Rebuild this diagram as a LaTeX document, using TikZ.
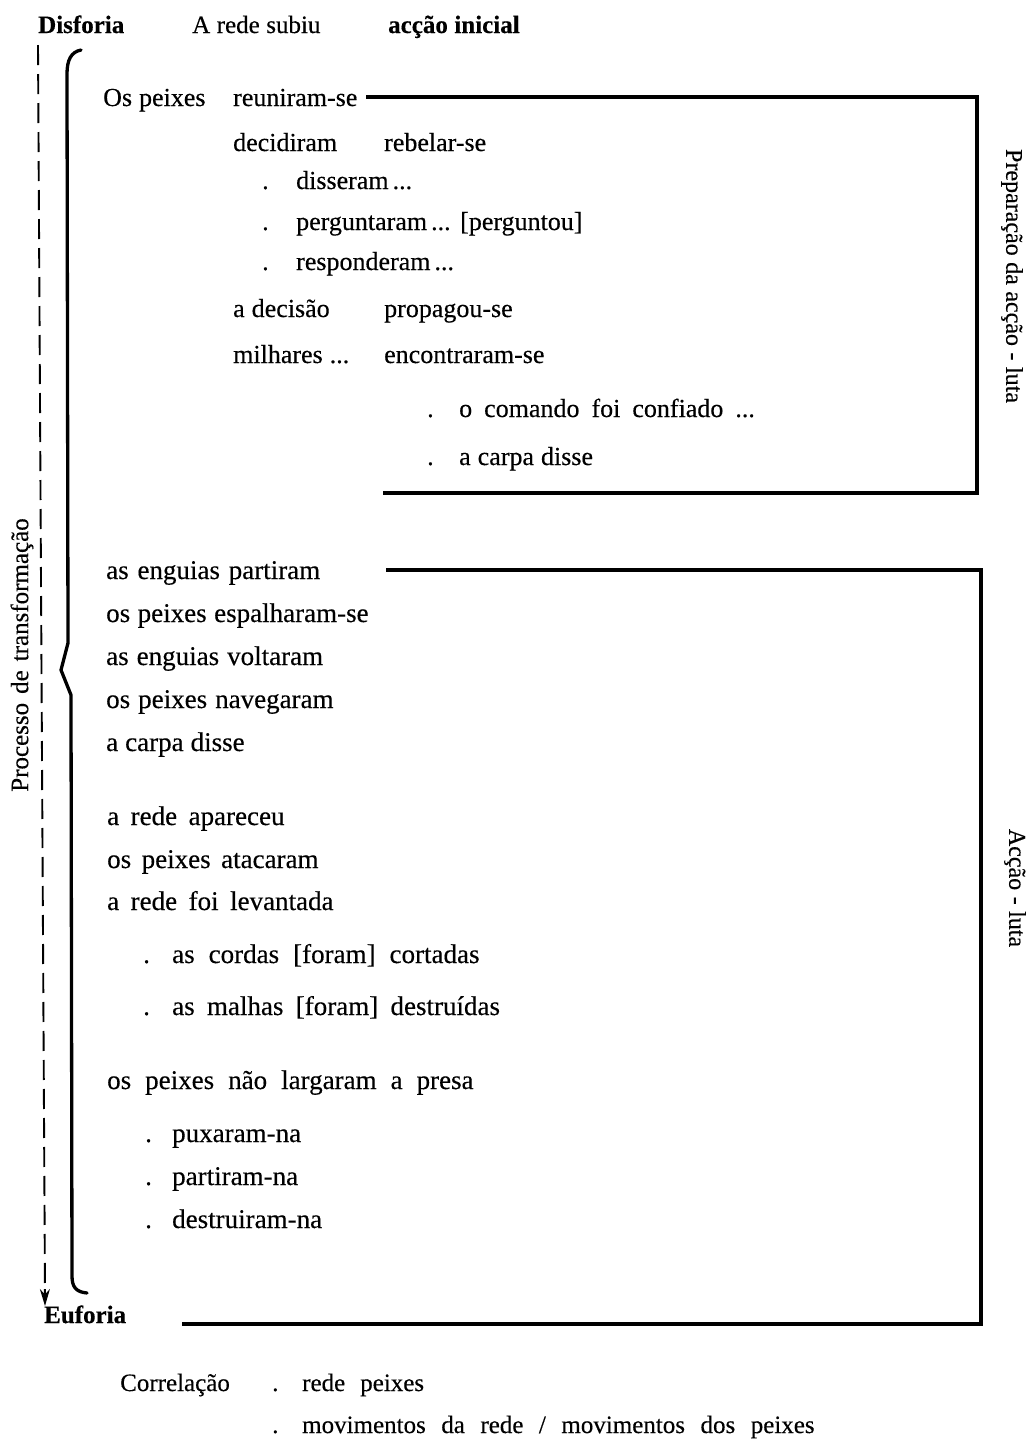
\documentclass[tikz,border=0pt]{standalone}
\usepackage{fontspec}
\setmainfont{Liberation Serif}
\newfontfamily\fa{Liberation Serif}[FakeBold=0.35]
\usetikzlibrary{arrows.meta,calc}
\begin{document}
\begin{tikzpicture}[x=1pt,y=-1pt,
  sp/.style={execute at begin node={\spaceskip=#1pt\relax}},
  up/.style={anchor=base west, inner sep=0pt, font=\fa\fontsize{26}{30}\selectfont, sp=7},
  lo/.style={anchor=base west, inner sep=0pt, font=\fa\fontsize{27}{31}\selectfont, sp=8.5},
  hd/.style={anchor=base west, inner sep=0pt, font=\fa\fontsize{25}{30}\selectfont, sp=6.5},
  hdb/.style={anchor=base west, inner sep=0pt, font=\fa\bfseries\fontsize{25}{30}\selectfont, sp=6.5},
  side/.style={inner sep=0pt, font=\fa\fontsize{24}{30}\selectfont, sp=6.5},
  bar/.style={line width=3.3pt},
  dsh/.style={line width=1.9pt, dash pattern=on 20pt off 9pt}]
\useasboundingbox (0,0) rectangle (1033,1441);
% header
\node[hdb] (dis) at (38,33) {Disforia};
\node[hd] (sub) at (192,33) {A rede subiu};
\node[hdb] (ini) at (388,33) {acção inicial};
% dashed arrow
\coordinate (dtop) at (38,45);
\coordinate (dbot) at (45,1306);
\draw[dsh] (dtop) -- ($(dbot)+(0,-14)$);
\draw[line width=1.9pt, -{Stealth[length=17pt,width=10pt]}] ($(dbot)+(-0.1,-17)$) -- (dbot);
\node[side, sp=9, font=\fa\fontsize{25}{30}\selectfont, rotate=90] (proc) at (22,655) {Processo de transformação};
% brace
\draw[bar, line cap=round] (81,50) .. controls (71,52) and (67,60) .. (67,74) -- (68,643) -- (61,670) -- (71,695) -- (72,1276) .. controls (72,1287) and (76,1292) .. (87,1293);
% upper block
\node[up] (a1) at (103,106) {Os peixes};
\node[up] (a1b) at (233,106) {reuniram-se};
\node[up] (a2) at (233,151) {decidiram};
\node[up] (a2b) at (384,151) {rebelar-se};
\node[up] (d1) at (262,189) {.};
\node[up] (a3) at (296,189) {disseram\hspace{4pt}...};
\node[up] (d2) at (262,230) {.};
\node[up] (a4) at (296,230) {perguntaram\hspace{4pt}...};
\node[up] (a4b) at (460,230) {[perguntou]};
\node[up] (d3) at (262,270) {.};
\node[up] (a5) at (296,270) {responderam\hspace{4pt}...};
\node[up] (a6) at (233,317) {a decisão};
\node[up] (a6b) at (384,317) {propagou-se};
\node[up] (a7) at (233,363) {milhares ...};
\node[up] (a7b) at (384,363) {encontraram-se};
\node[up] (d4) at (427,417) {.};
\node[up, sp=12] (a8) at (459,417) {o comando foi confiado ...};
\node[up] (d5) at (427,465) {.};
\node[up] (a9) at (459,465) {a carpa disse};
% upper bracket
\coordinate (p1) at (366,97);
\coordinate (p2) at (977,493);
\coordinate (p3) at (383,493);
\draw[bar] (p1) -| (p2) -- (p3);
\node[side, rotate=-90] (prep) at (1012,276) {Preparação da acção - luta};
% lower block
\node[lo, sp=8.8] (b1) at (106,579) {as enguias partiram};
\node[lo, sp=7.5] (b2) at (106,622) {os peixes espalharam-se};
\node[lo, sp=8] (b3) at (106,665) {as enguias voltaram};
\node[lo, sp=8] (b4) at (106,708) {os peixes navegaram};
\node[lo, sp=7] (b5) at (106,751) {a carpa disse};
\node[lo, sp=11.5] (b6) at (107,825) {a rede apareceu};
\node[lo, sp=10.5] (b7) at (107,868) {os peixes atacaram};
\node[lo, sp=11.5] (b8) at (107,910) {a rede foi levantada};
\node[lo] (e1) at (143,963) {.};
\node[lo, sp=14] (b9) at (172,963) {as cordas [foram] cortadas};
\node[lo] (e2) at (143,1015) {.};
\node[lo, sp=12.3] (b10) at (172,1015) {as malhas [foram] destruídas};
\node[lo, sp=14] (b11) at (107,1089) {os peixes não largaram a presa};
\node[lo] (e3) at (145,1142) {.};
\node[lo] (b12) at (172,1142) {puxaram-na};
\node[lo] (e4) at (145,1185) {.};
\node[lo] (b13) at (172,1185) {partiram-na};
\node[lo] (e5) at (145,1228) {.};
\node[lo] (b14) at (172,1228) {destruiram-na};
% lower bracket
\coordinate (q1) at (386,570);
\coordinate (q2) at (981,1324);
\coordinate (q3) at (182,1324);
\draw[bar] (q1) -| (q2) -- (q3);
\node[side, rotate=-90] (acl) at (1015,888) {Acção - luta};
% footer
\node[hdb] (euf) at (44,1323) {Euforia};
\node[hd] (cor) at (120,1391) {Correlação};
\node[hd] (f1) at (272,1391) {.};
\node[hd, sp=15] (f1b) at (302,1391) {rede peixes};
\node[hd] (f2) at (272,1433) {.};
\node[hd, sp=15.5] (f2b) at (302,1433) {movimentos da rede / movimentos dos peixes};
\end{tikzpicture}
\end{document}
